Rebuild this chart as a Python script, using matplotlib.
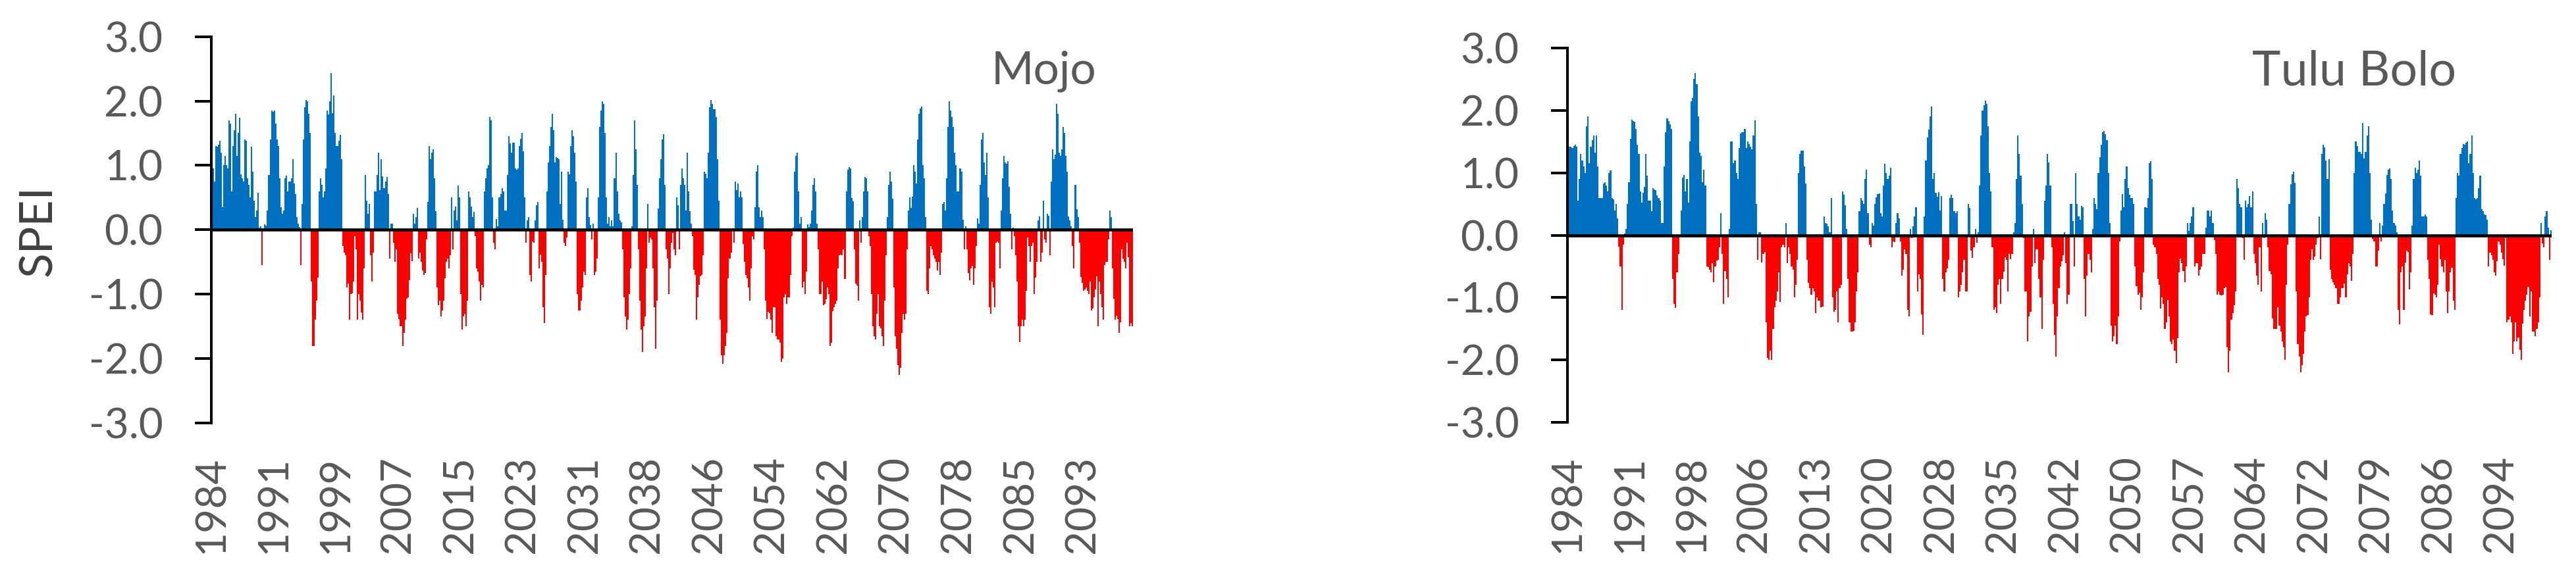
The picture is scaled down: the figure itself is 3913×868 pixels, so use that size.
import numpy as np
import matplotlib
matplotlib.use("Agg")
import matplotlib.pyplot as plt

plt.rcParams['font.family'] = ['Lato', 'DejaVu Sans']

# ---------------- data (SPEI, one value per two months, Jan 1984 onwards) ----------------
mojo_spei = [
    0.9, 0.95, 0.75, 1.3, 1.29, 1.32, 1.38, 1.2, 0.35, 1.0,
    1.15, 1.0, 0.95, 1.7, 1.65, 0.6, 1.3, 1.55, 1.8, 1.15,
    1.5, 1.74, 0.86, 0.8, 0.75, 1.4, 1.38, 0.8, 0.7, 0.5,
    1.29, 0.9, 0.45, 0.2, 0.3, 0.57, 0.03, 0.05, -0.55, 0.02,
    0.08, 0.06, 0.3, 0.85, 1.4, 1.85, 1.83, 1.85, 1.65, 1.4,
    1.3, 0.8, 0.35, 0.25, 0.3, 0.8, 0.84, 0.6, 0.75, 0.75,
    0.8, 1.1, 0.72, 0.55, 0.2, 0.1, 0.04, -0.55, 0.4, 1.4,
    1.9, 2.02, 2.0, 1.8, 1.5, -0.8, -1.8, -1.8, -1.4, -1.1,
    -0.74, 0.6, 0.8, 0.7, 0.5, 0.6, 0.95, 1.85, 1.79, 2.0,
    2.43, 1.81, 2.09, 1.5, 1.3, 1.3, 1.38, 1.47, 1.1, -0.25,
    -0.35, -0.4, -0.9, -0.83, -1.4, -1.0, -0.99, -0.8, -0.1, -0.3,
    -1.4, -1.0, -1.1, -1.28, -1.4, -0.6, 0.85, 0.45, 0.25, 0.4,
    -0.4, -0.8, -0.35, 0.6, 0.6, 0.85, 1.2, 0.62, 1.1, 0.83,
    0.65, 0.75, 0.82, 0.55, -0.45, 0.1, 0.1, -0.2, -0.5, -0.3,
    -1.3, -1.39, -1.5, -1.5, -1.8, -1.6, -1.4, -1.07, -1.05, -0.78,
    -0.36, -0.49, 0.25, 0.1, 0.2, 0.34, -0.45, -0.35, -0.5, -0.63,
    -0.7, -0.67, -0.15, 0.43, 1.3, 1.1, 1.2, 1.25, 0.8, 0.29,
    -0.9, -1.17, -1.1, -1.35, -1.25, -1.1, -0.75, -0.5, -0.45, -0.6,
    -0.4, 0.5, -0.3, 0.3, 0.36, 0.15, 0.69, 0.5, -1.0, -1.55,
    -1.35, -1.3, -1.5, -1.1, 0.6, 0.5, 0.36, 0.2, 0.28, -0.1,
    -0.6, -0.65, -0.8, -1.1, -0.85, -0.9, 0.6, 0.8, 0.95, 1.0,
    1.75, 1.7, 0.5, -0.2, -0.3, 0.17, 0.05, 0.5, 0.55, 0.65,
    0.6, 0.3, 0.3, 0.85, 1.45, 1.34, 1.2, 1.35, 1.35, 0.95,
    0.93, 0.95, 1.3, 1.41, 1.5, 1.22, 0.5, -0.2, 0.15, 0.2,
    -0.7, -0.8, -0.18, -0.2, 0.15, 0.38, 0.43, -0.6, -0.38, -0.5,
    -1.2, -1.45, -0.7, 0.6, 1.05, 1.3, 1.6, 1.8, 1.55, 1.05,
    1.13, 1.12, 1.1, 0.4, 0.9, 0.16, -0.2, -0.25, -0.12, 0.9,
    0.86, 1.3, 1.55, 1.45, 1.2, 0.75, -1.0, -1.25, -1.25, -1.1,
    -0.9, -0.65, -0.7, 0.5, 0.65, 0.2, 0.07, -0.15, 0.1, -0.7,
    -0.65, -0.45, 0.5, 1.6, 1.85, 2.0, 1.95, 1.5, 0.5, 0.1,
    0.2, 0.05, 0.15, 0.05, 0.8, 1.2, 0.6, 0.25, 0.15, 0.12,
    -0.3, -1.05, -1.35, -1.55, -1.4, -1.0, -0.6, 0.05, 0.85, 1.7,
    1.25, 0.7, -0.3, -1.1, -1.55, -1.9, -1.5, -1.35, -0.6, 0.4,
    -0.2, -0.12, -0.15, -0.6, -1.2, -1.85, -1.1, 0.33, 0.8, 1.1,
    1.4, 1.48, 0.7, -0.3, -0.45, -1.0, -0.6, -0.2, -0.05, -0.3,
    -0.4, 0.5, 0.38, -0.3, 0.7, 0.95, 0.8, 0.7, 0.3, 1.2,
    0.6, 0.29, 0.1, -0.1, -0.62, -0.7, -1.4, -1.05, -0.85, -0.72,
    -0.7, -0.4, 0.9, 0.87, 0.8, 1.2, 1.9, 2.02, 1.95, 1.87,
    1.87, 1.75, 1.1, 0.45, -1.4, -1.95, -2.08, -1.95, -1.8, -1.6,
    -0.75, -0.45, -0.35, 0.02, -0.2, 0.75, 0.62, 0.72, 0.5, 0.6,
    0.5, -0.22, -0.5, -0.7, -0.75, -0.9, -1.1, -0.6, -0.1, -0.15,
    0.35, 0.9, 1.0, 0.35, 0.2, 0.3, 0.2, -0.3, -1.1, -1.39,
    -1.27, -1.29, -1.4, -1.6, -1.2, -1.2, -1.65, -1.7, -1.7, -1.75,
    -2.05, -2.0, -1.05, -1.0, -1.15, -1.05, -1.05, -0.7, -0.1, 0.03,
    0.9, 1.15, 1.2, 0.6, 0.1, 0.2, -0.9, -0.8, -1.0, -0.65,
    0.08, 0.04, 0.1, 0.3, 0.7, 0.8, 0.6, 0.1, -0.3, -1.0,
    -1.0, -0.8, -1.17, -1.15, -1.08, -0.9, -1.0, -1.81, -1.75, -1.26,
    -1.2, -1.15, -1.1, -0.6, -0.4, -0.38, -0.4, -0.3, -0.76, 0.6,
    0.93, 0.97, 0.95, 0.49, 0.44, -0.3, -0.83, -0.87, -1.1, 0.15,
    -0.2, 0.2, 0.6, 0.82, 0.8, 0.6, -0.1, -0.25, -1.0, -1.5,
    -1.65, -1.7, -1.3, -1.0, -1.5, -1.53, -1.65, -1.8, -1.1, -0.4,
    0.2, 0.7, 0.9, 0.75, 0.48, -0.9, -1.65, -1.85, -2.1, -2.25,
    -2.14, -1.6, -1.3, -1.4, -1.3, -0.3, 0.3, 0.5, 0.34, 0.51,
    1.0, 0.9, 0.72, 1.4, 1.8, 1.88, 1.91, 1.0, 0.8, 0.2,
    -0.95, -1.0, -0.6, -0.25, -0.3, -0.4, -0.45, -0.5, -0.63, -0.5,
    -0.7, -0.35, 0.4, 0.43, 0.3, 0.8, 1.6, 2.0, 1.85, 1.75,
    1.6, 1.2, 1.0, 0.6, 0.6, 0.95, 0.9, 0.16, -0.3, 0.05,
    -0.3, -0.67, -0.78, -0.6, -0.56, -0.85, -0.6, -0.25, 0.18, 0.1,
    0.7, 1.4, 1.5, 1.05, 0.85, 1.2, 0.5, -1.2, -1.3, -0.8,
    -0.9, -1.2, -0.2, -0.18, -0.2, -0.6, 0.3, 0.8, 1.15, 1.05,
    1.02, 1.07, 0.67, 0.25, -0.3, 0.03, -0.1, -0.4, -0.8, -1.5,
    -1.74, -1.5, -1.4, -1.5, -1.4, -0.95, -0.12, -0.25, -0.5, -0.25,
    -0.2, -1.0, -0.74, -0.5, 0.15, 0.21, -0.5, -0.35, 0.45, -0.15,
    -0.2, 0.25, 0.22, -0.4, 0.75, 1.25, 1.1, 1.17, 1.95, 1.8,
    1.2, 1.15, 1.25, 1.6, 1.5, 1.15, 0.9, 0.21, 0.15, 0.05,
    -0.25, -0.6, 0.7, 0.32, 0.2, -0.2, -0.73, -0.82, -0.95, -0.93,
    -0.9, -0.95, -1.0, -0.8, -1.25, -1.22, -1.05, -0.93, -0.72, -1.5,
    -0.8, -1.0, -1.2, -1.4, -0.55, -0.5, -0.5, -0.15, 0.3, 0.2,
    -0.6, -1.07, -1.4, -1.33, -1.39, -1.6, -1.44, -0.3, -0.45, -0.5,
    -0.6, -0.2, -0.43, -1.5, -1.45, -1.5,
]

tulu_spei = [
    1.0, 1.42, 1.42, 1.4, 1.43, 1.45, 1.42, 0.55, 0.9, 1.3,
    1.2, 1.1, 1.0, 1.75, 1.9, 1.15, 1.42, 1.52, 1.6, 1.32,
    1.6, 1.1, 0.6, 0.6, 0.6, 0.83, 0.85, 0.8, 0.7, 1.0,
    1.04, 0.6, 0.57, 0.4, 0.5, 0.27, -0.18, -0.5, -1.2, -0.15,
    0.03, 0.1, 0.5, 0.85, 1.55, 1.85, 1.83, 1.82, 1.7, 1.45,
    1.3, 0.7, 0.52, 0.68, 0.78, 1.3, 0.95, 0.55, 0.55, 0.38,
    0.75, 0.73, 0.72, 0.64, 0.6, 0.55, 0.2, 0.2, 1.1, 1.65,
    1.87, 1.83, 1.78, 1.7, -0.7, -1.1, -1.16, -0.6, -0.3, 0.02,
    0.4, 0.92, 0.97, 0.7, 0.9, 0.52, 1.5, 2.15, 2.2, 2.5,
    2.6, 2.42, 1.9, 1.32, 1.27, 0.85, 1.05, 0.8, -0.5, -0.51,
    -0.55, -0.6, -0.45, -0.75, -0.5, -0.41, -0.4, -0.2, 0.35, -0.3,
    -1.1, -0.57, -0.7, -1.0, 0.1, 1.5, 1.5, 1.15, 1.2, 1.0,
    0.9, 1.4, 1.63, 1.65, 1.65, 1.7, 1.4, 1.5, 1.46, 1.42,
    1.38, 1.6, 1.84, 0.5, -0.4, 0.05, 0.05, -0.44, -0.3, -0.27,
    -1.4, -1.97, -2.0, -1.85, -2.0, -1.5, -1.15, -1.05, -0.9, -0.6,
    -1.07, -0.2, -0.15, -0.2, 0.2, -0.45, -0.2, -0.3, -0.5, -0.55,
    -1.0, -0.8, -0.4, 1.0, 1.3, 1.36, 1.36, 1.1, 0.83, -0.4,
    -0.76, -0.85, -0.95, -0.85, -0.9, -1.25, -1.0, -1.05, -1.05, -1.15,
    -1.14, 0.3, 0.2, 0.18, 0.14, 0.05, 0.6, -1.0, -1.23, -1.2,
    -0.9, -1.4, -0.85, -0.8, 0.7, 0.65, 0.48, 0.1, -0.7, -1.4,
    -1.55, -1.55, -1.53, -1.4, -0.9, -0.6, 0.38, 0.6, 0.55, 0.5,
    0.9, 1.05, 0.35, -0.15, -0.2, 0.2, 0.15, 0.5, 0.61, 0.66,
    0.67, 0.35, 0.3, 0.8, 1.14, 1.0, 0.9, 0.95, 1.08, -0.2,
    -0.1, -0.11, 0.2, 0.35, 0.27, -0.1, -0.65, -0.55, -0.23, -0.3,
    -1.2, -1.3, 0.1, -0.05, 0.14, 0.3, 0.45, -0.9, -0.63, -0.7,
    -1.27, -1.6, 0.3, 1.2, 1.57, 1.69, 1.9, 2.06, 0.9, 1.0,
    0.68, 0.62, 0.69, 0.4, 0.63, -0.7, -0.9, -0.6, -0.53, -0.4,
    0.6, 0.65, 0.6, 0.38, 0.35, 0.38, -1.0, -0.9, -0.8, -0.6,
    -0.4, -0.9, -0.9, 0.5, 0.44, -0.25, -0.36, -0.2, 0.1, -0.12,
    0.05, 0.8, 1.6, 2.0, 2.08, 2.16, 2.1, 1.75, 1.0, 0.7,
    -0.2, -1.2, -1.15, -1.25, -0.8, -0.7, -1.1, -0.7, -0.59, -0.35,
    -0.4, -0.9, -0.3, -0.38, -0.3, 0.05, 0.2, 0.9, 1.6, 1.3,
    0.95, 0.5, -0.05, -0.9, -0.9, -1.7, -1.3, -1.23, -0.5, 0.1,
    -0.45, -0.23, -0.23, -0.7, -1.0, -1.5, -0.4, 0.55, 0.8, 1.3,
    1.17, 0.8, -0.2, -1.1, -1.6, -1.95, -1.3, -0.85, -0.5, -0.42,
    -0.32, 0.05, -0.45, -1.1, -0.95, 0.5, 0.5, 0.23, -0.5, 1.0,
    0.5, 0.3, 0.25, 0.47, 0.45, -0.7, -1.3, -0.65, -0.3, -0.4,
    -0.6, 0.1, 0.6, 0.5, 0.42, 1.0, 1.25, 1.45, 1.65, 1.67,
    1.62, 1.52, 1.0, 0.2, -1.45, -1.7, -1.62, -1.45, -1.75, -1.3,
    -0.1, 0.4, 0.66, 0.45, 0.9, 1.1, 0.75, 0.65, 0.6, 0.6,
    0.5, -0.5, -0.82, -0.95, -0.92, -1.2, -1.0, -0.6, 0.45, 0.44,
    0.6, 1.15, 1.19, 0.9, -0.15, -0.2, -0.3, -0.7, -0.8, -1.18,
    -1.0, -1.1, -1.5, -1.4, -1.04, -1.3, -1.7, -1.75, -1.67, -1.85,
    -2.05, -1.65, -0.6, -0.37, -0.45, -0.57, -0.75, -0.5, 0.2, 0.07,
    0.2, 0.3, 0.45, -0.5, -0.45, -0.45, -0.65, -0.55, -0.5, -0.3,
    -0.3, 0.12, 0.4, 0.4, 0.3, 0.4, 0.2, -0.08, -0.3, -0.95,
    -0.9, -0.95, -0.97, -0.95, -0.85, -0.83, -1.8, -2.2, -1.85, -1.35,
    -1.25, -1.12, -0.9, 0.9, 0.75, 0.5, 0.45, -0.05, -0.4, 0.55,
    0.45, 0.5, 0.63, 0.45, 0.7, -0.3, -0.45, -0.65, -0.8, -0.2,
    -0.9, 0.2, -0.05, 0.35, 0.25, -0.2, -0.57, -0.63, -1.33, -1.5,
    -1.5, -1.5, -1.15, -1.45, -1.55, -1.7, -1.8, -2.0, -0.8, -0.15,
    0.5, 0.82, 0.98, 1.02, 0.84, -0.9, -1.75, -1.95, -2.2, -2.08,
    -1.9, -1.55, -1.3, -1.28, -1.0, -0.4, -0.23, -0.4, -0.34, -0.15,
    -0.05, 0.3, -0.38, 1.3, 1.45, 1.41, 1.2, 0.9, 1.22, -0.55,
    -0.7, -0.75, -0.8, -0.85, -1.1, -1.1, -1.0, -0.85, -0.85, -0.78,
    -1.0, -0.63, -0.45, -0.5, -0.73, -0.3, 1.0, 1.5, 1.43, 1.33,
    1.33, 1.3, 1.8, 1.23, 1.33, 1.6, 1.74, 1.0, 0.25, -0.06,
    -0.1, -0.5, -0.5, -0.25, 0.2, -0.1, 0.15, 0.5, 0.67, 0.96,
    1.05, 1.07, 0.9, 0.4, 0.2, 0.15, 0.05, -1.2, -1.43, -0.6,
    -0.5, -1.2, -0.44, -0.25, -0.27, -0.87, -0.6, 0.15, 0.9, 1.08,
    1.0, 1.05, 1.2, 0.95, 0.3, 0.3, 0.33, 0.3, -0.4, -0.7,
    -1.27, -1.28, -0.93, -0.95, -1.0, -0.8, -0.15, -0.38, -0.5, -0.6,
    -0.4, -0.9, -1.25, -0.9, -0.6, -0.52, -1.05, -1.2, 0.6, 1.0,
    0.95, 1.3, 1.4, 1.46, 1.45, 1.48, 1.5, 1.15, 1.3, 1.6,
    1.0, 0.6, 0.57, 0.6, 0.75, 0.95, 0.42, 0.38, 0.33, 0.32,
    0.25, -0.5, -0.28, -0.32, -0.4, -0.6, -0.65, -0.42, -0.1, -0.15,
    -0.28, -0.38, -0.49, -0.05, -1.4, -1.36, -1.3, -1.4, -1.9, -1.7,
    -1.4, -1.7, -1.64, -1.84, -2.0, -1.42, -1.2, -1.05, -0.95, -0.83,
    -1.3, -0.9, -1.55, -1.55, -1.62, -1.5, -1.4, -1.0, 0.2, -0.13,
    -0.2, 0.3, 0.38, 0.12, -0.4, 0.08,
]

mojo_years = [1984, 1991, 1999, 2007, 2015, 2023, 2031, 2038, 2046,
              2054, 2062, 2070, 2078, 2085, 2093]
tulu_years = [1984, 1991, 1998, 2006, 2013, 2020, 2028, 2035, 2042,
              2050, 2057, 2064, 2072, 2079, 2086, 2094]
mojo_label_every = 94   # months between category labels
tulu_label_every = 88
months_per_value = 2

y_ticks = [-3.0, -2.0, -1.0, 0.0, 1.0, 2.0, 3.0]

BLUE = '#0070C0'
RED = '#FF0000'
GREY = '#595959'

W, H = 3913, 868
fig = plt.figure(figsize=(W / 100, H / 100), dpi=100)


def panel(px_left, px_right, px_top, px_bottom, vals, years, every, title, tx, ty, tsize):
    ax = fig.add_axes([px_left / W, 1 - px_bottom / H,
                       (px_right - px_left) / W, (px_bottom - px_top) / H])
    v = np.asarray(vals, dtype=float)
    x = np.arange(len(v)) + 0.5
    cols = [BLUE if t >= 0 else RED for t in v]
    ax.bar(x, v, width=1.0, color=cols, linewidth=0, zorder=2)
    ax.set_xlim(0, len(v))
    ax.set_ylim(-3, 3)
    ax.axhline(0, color='black', lw=3.3, zorder=3)
    for s in ('top', 'right', 'bottom'):
        ax.spines[s].set_visible(False)
    ax.spines['left'].set_linewidth(2.9)
    ax.spines['left'].set_color('black')
    ax.spines['left'].set_zorder(4)
    ax.set_yticks(y_ticks)
    ax.set_yticklabels([('%.1f' % t) for t in y_ticks])
    ax.tick_params(axis='y', direction='out', length=18, width=2.9,
                   pad=35, labelsize=46, labelcolor=GREY, color='black')
    pos = [k * every / months_per_value for k in range(len(years))]
    ax.set_xticks(pos)
    ax.set_xticklabels([str(y) for y in years], rotation=90)
    ax.tick_params(axis='x', length=0, pad=36, labelsize=46, labelcolor=GREY)
    fig.text(tx / W, 1 - ty / H, title, ha='left', va='baseline',
             fontsize=tsize, color=GREY)
    return ax


panel(321, 1721, 55.6, 643, mojo_spei, mojo_years, mojo_label_every,
      'Mojo', 1506, 127, 50)
panel(2381, 3876, 73, 642, tulu_spei, tulu_years, tulu_label_every,
      'Tulu Bolo', 3421, 129, 53)

fig.text(59 / W, 1 - 350 / H, 'SPEI', rotation=90, ha='center', va='center',
         fontsize=50, color='#404040')

fig.savefig('out.png', dpi=100)
